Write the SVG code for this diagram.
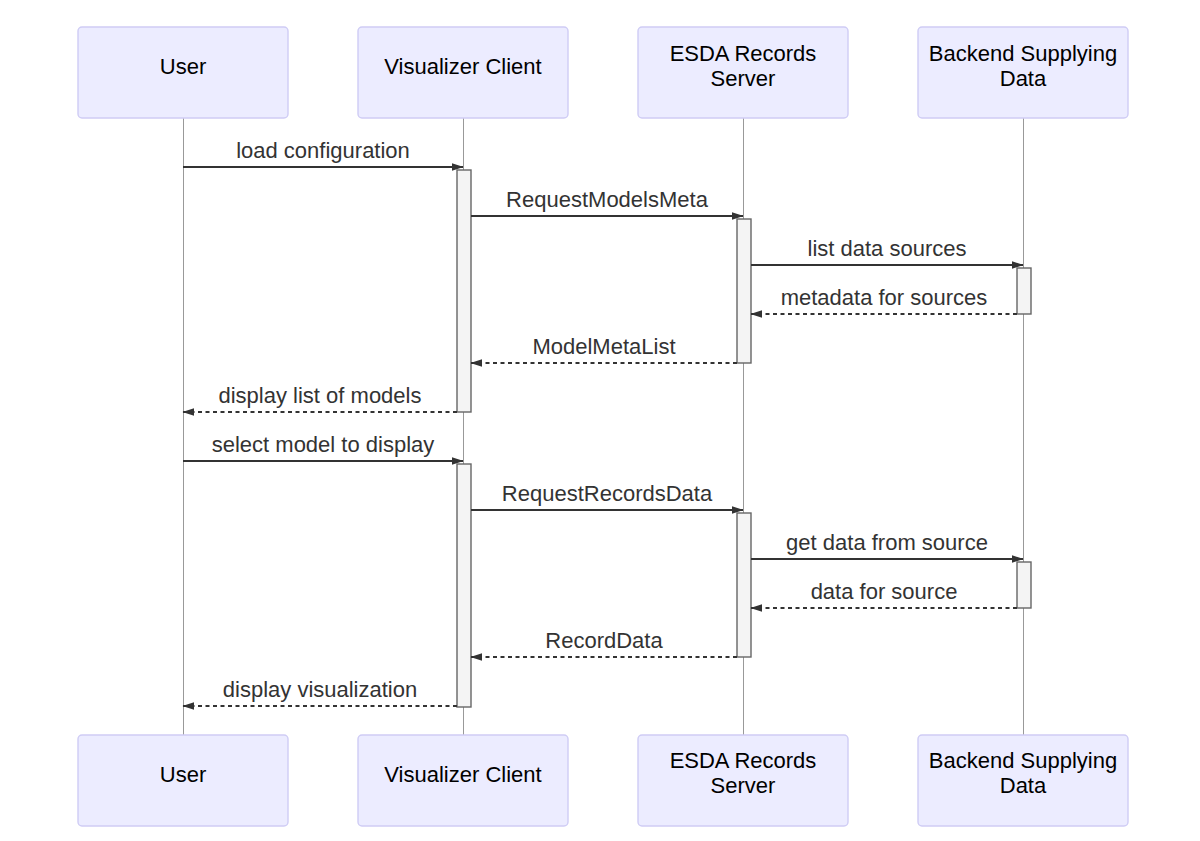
<svg xmlns="http://www.w3.org/2000/svg" width="1200" height="841" viewBox="0 0 1200 841">
<style>
.actor{fill:#ECECFF;stroke:#CFCCF5;stroke-width:1.4}
.atext{font-family:"Liberation Sans",Arial,sans-serif;font-size:22px;fill:#000;text-anchor:middle}
.life{stroke:#999;stroke-width:1}
.act{fill:#F4F4F4;stroke:#666;stroke-width:1.4}
.msg{stroke:#333;stroke-width:2;fill:none;marker-end:url(#ah)}
.dot{stroke-dasharray:4,3.5}
.mtext{font-family:"Liberation Sans",Arial,sans-serif;font-size:22px;fill:#333;text-anchor:middle}
</style>
<defs>
<marker id="ah" viewBox="0 0 10 10" preserveAspectRatio="none" refX="9.5" refY="5" markerUnits="userSpaceOnUse" markerWidth="12" markerHeight="8" orient="auto">
<path d="M0,0 L10,5 L0,10 z" fill="#333"/>
</marker>
</defs>
<rect width="1200" height="841" fill="#fff"/>
<g id="lifelines">
<line class="life" x1="183.5" y1="118" x2="183.5" y2="735"/>
<line class="life" x1="463.5" y1="118" x2="463.5" y2="735"/>
<line class="life" x1="743.5" y1="118" x2="743.5" y2="735"/>
<line class="life" x1="1023.5" y1="118" x2="1023.5" y2="735"/>
</g>
<g id="actor-user">
<rect class="actor" x="78" y="27" width="210" height="91" rx="4"/>
<text class="atext" x="183" y="73.5">User</text>
<rect class="actor" x="78" y="735" width="210" height="91" rx="4"/>
<text class="atext" x="183" y="781.5">User</text>
</g>
<g id="actor-visualizer">
<rect class="actor" x="358" y="27" width="210" height="91" rx="4"/>
<text class="atext" x="463" y="73.5">Visualizer Client</text>
<rect class="actor" x="358" y="735" width="210" height="91" rx="4"/>
<text class="atext" x="463" y="781.5">Visualizer Client</text>
</g>
<g id="actor-esda">
<rect class="actor" x="638" y="27" width="210" height="91" rx="4"/>
<text class="atext" x="743" y="60.5">ESDA Records</text>
<text class="atext" x="743" y="85.5">Server</text>
<rect class="actor" x="638" y="735" width="210" height="91" rx="4"/>
<text class="atext" x="743" y="768">ESDA Records</text>
<text class="atext" x="743" y="793">Server</text>
</g>
<g id="actor-backend">
<rect class="actor" x="918" y="27" width="210" height="91" rx="4"/>
<text class="atext" x="1023" y="60.5">Backend Supplying</text>
<text class="atext" x="1023" y="85.5">Data</text>
<rect class="actor" x="918" y="735" width="210" height="91" rx="4"/>
<text class="atext" x="1023" y="768">Backend Supplying</text>
<text class="atext" x="1023" y="793">Data</text>
</g>
<g id="activations">
<rect class="act" x="457" y="170" width="14" height="242"/>
<rect class="act" x="737" y="219" width="14" height="144"/>
<rect class="act" x="1017" y="268" width="14" height="46"/>
<rect class="act" x="457" y="464" width="14" height="243"/>
<rect class="act" x="737" y="513" width="14" height="144"/>
<rect class="act" x="1017" y="562" width="14" height="46"/>
</g>
<g id="connectors">
<line class="msg" x1="183" y1="167" x2="463" y2="167"/>
<text class="mtext" x="323" y="158">load configuration</text>
<line class="msg" x1="471" y1="216" x2="743" y2="216"/>
<text class="mtext" x="607" y="207">RequestModelsMeta</text>
<line class="msg" x1="751" y1="265" x2="1023" y2="265"/>
<text class="mtext" x="887" y="256">list data sources</text>
<line class="msg dot" x1="1017" y1="314" x2="751" y2="314"/>
<text class="mtext" x="884" y="305">metadata for sources</text>
<line class="msg dot" x1="737" y1="363" x2="471" y2="363"/>
<text class="mtext" x="604" y="354">ModelMetaList</text>
<line class="msg dot" x1="457" y1="412" x2="183" y2="412"/>
<text class="mtext" x="320" y="403">display list of models</text>
<line class="msg" x1="183" y1="461" x2="463" y2="461"/>
<text class="mtext" x="323" y="452">select model to display</text>
<line class="msg" x1="471" y1="510" x2="743" y2="510"/>
<text class="mtext" x="607" y="501">RequestRecordsData</text>
<line class="msg" x1="751" y1="559" x2="1023" y2="559"/>
<text class="mtext" x="887" y="550">get data from source</text>
<line class="msg dot" x1="1017" y1="608" x2="751" y2="608"/>
<text class="mtext" x="884" y="599">data for source</text>
<line class="msg dot" x1="737" y1="657" x2="471" y2="657"/>
<text class="mtext" x="604" y="648">RecordData</text>
<line class="msg dot" x1="457" y1="706" x2="183" y2="706"/>
<text class="mtext" x="320" y="697">display visualization</text>
</g>
</svg>
